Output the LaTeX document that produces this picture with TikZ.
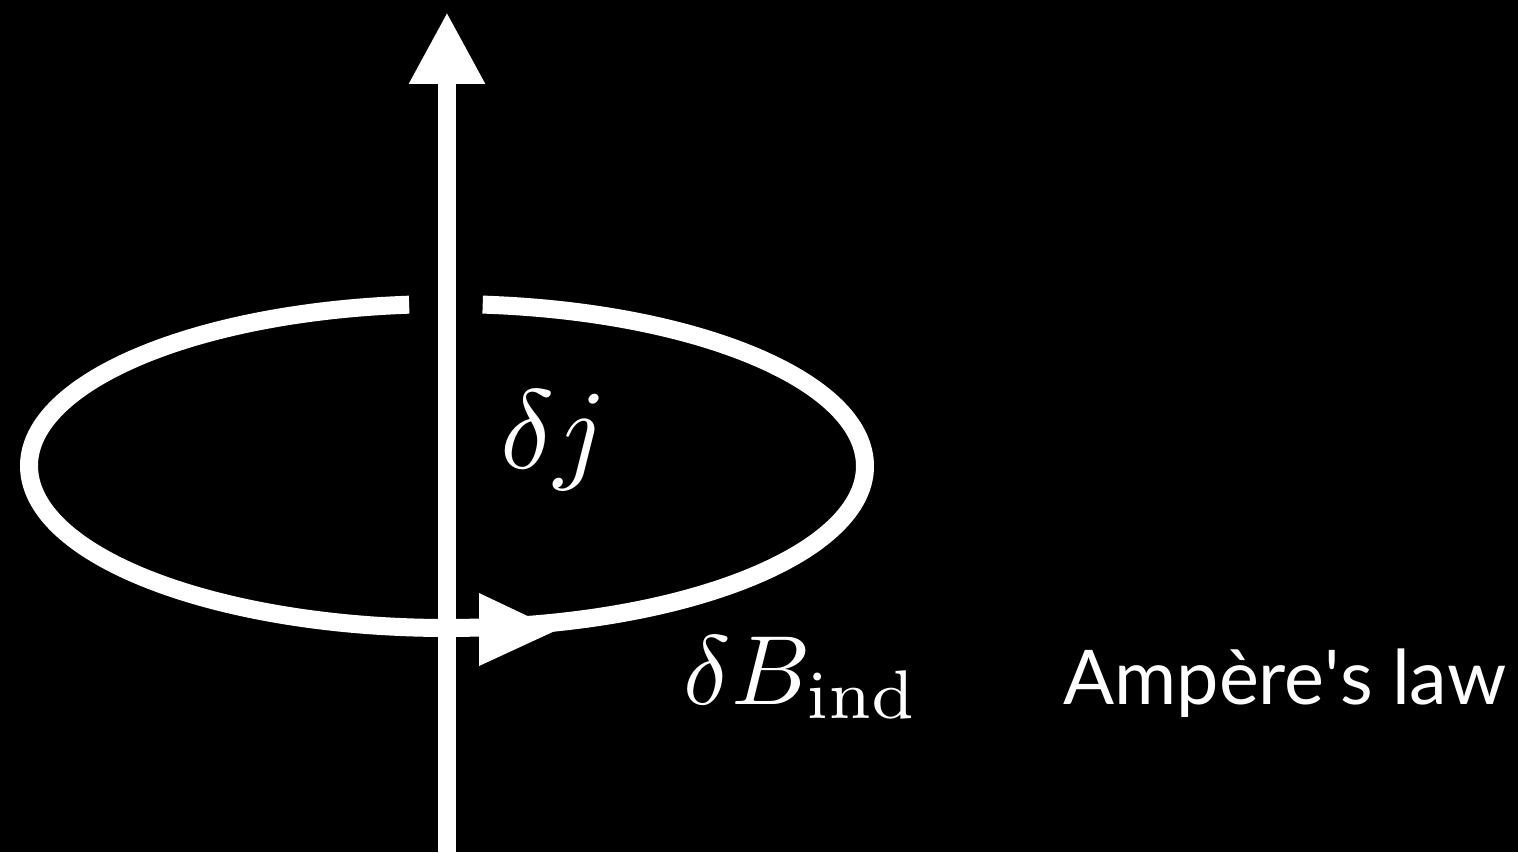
\documentclass[tikz,border=0pt]{standalone}
\usepackage{fontspec}
\usepackage{tikz}
\usetikzlibrary{arrows.meta,calc}
\newfontfamily\lawfont{Lato}
\tikzset{
  wire/.style    = {draw=white, line width=0.36cm},
  ar/.style      = {-{Triangle[length=1.44cm, width=1.42cm]}},
  lbl/.style     = {text=white, inner sep=0pt, anchor=base west},
  lawlbl/.style  = {text=white, inner sep=0pt, anchor=base,
                    font=\fontsize{43}{51}\selectfont\lawfont},
}

\begin{document}
\begin{tikzpicture}[x=0.02cm, y=0.02cm]
  \fill[black] (0,0) rectangle (1518,852);
  \useasboundingbox (0,0) rectangle (1518,852);
  \coordinate (ctr) at (447,386);
  \coordinate (foot) at (447,0);
  \coordinate (head) at (447,840);
  % current loop, open where the wire passes in front
  \draw[wire] ($(ctr)+(95.2:418 and 162)$)
    arc[start angle=95.2, end angle=445.1, x radius=418, y radius=162];
  \draw[wire, ar] (foot) -- (head);
  % sense of the loop
  \fill[white] (479,259) -- (557,222) -- (479,186) -- cycle;
  \node[lbl, scale=6.4] (dj) at (498,384) {$\delta j$};
  \node[lbl, scale=5.6] (db) at (682,148) {$\delta B_{\mathrm{ind}}$};
  \node[lawlbl] (law) at (1285,147) {Ampère\textquotesingle s law};
\end{tikzpicture}
\end{document}
